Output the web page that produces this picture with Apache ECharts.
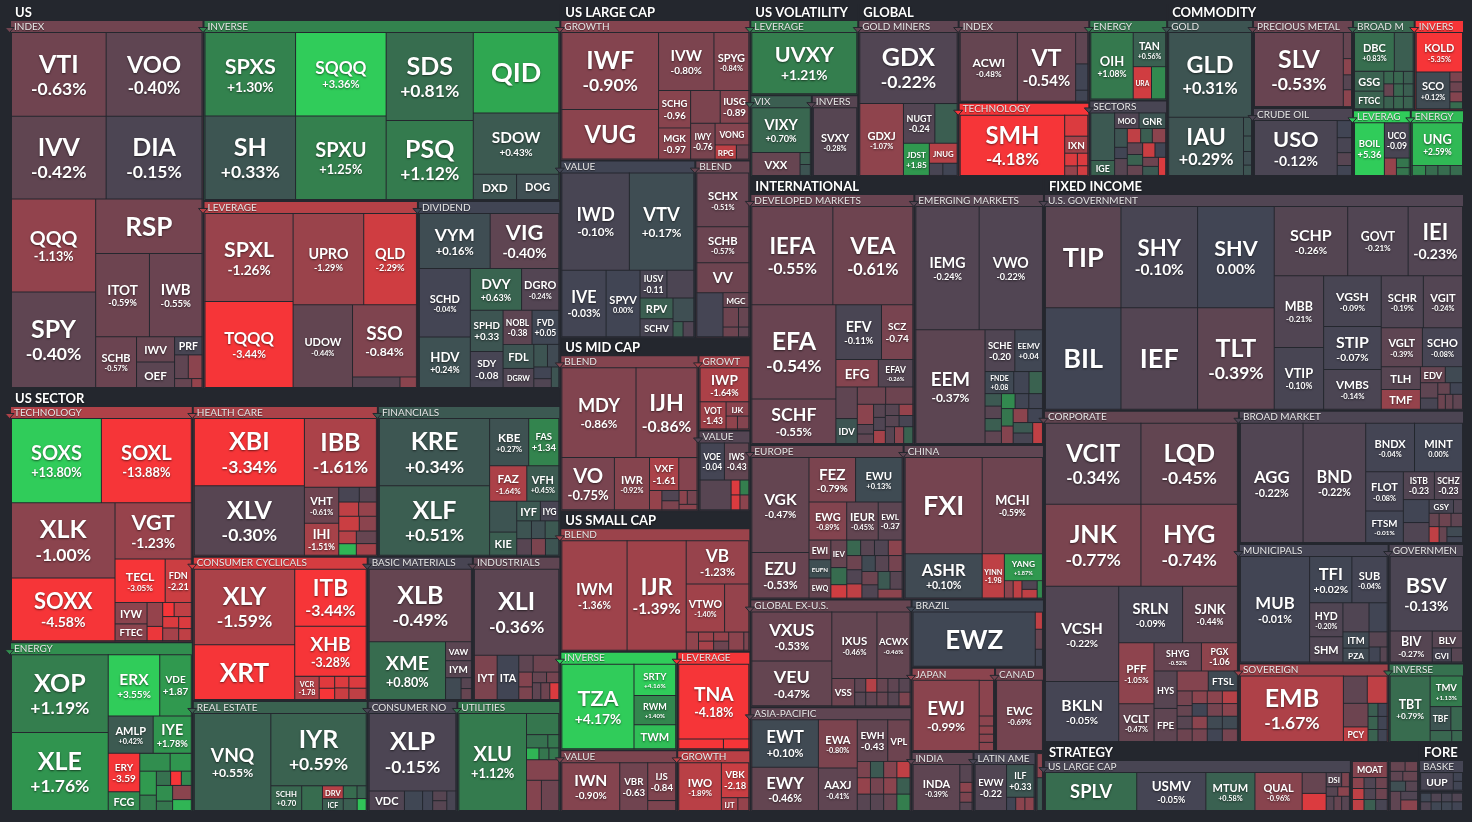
<!DOCTYPE html>
<html><head><meta charset="utf-8">
<script src="https://cdn.jsdelivr.net/npm/echarts@6/dist/echarts.min.js"></script>
<style>html,body{margin:0;padding:0;background:#24272e;}#c{width:1472px;height:822px;}</style>
</head><body><div id="c"></div>
<script>
// ---------- DATA: [ticker, relative size (px area), change %, label mode] ----------
// label mode: 1 = ticker + "x.xx%", 2 = ticker + "x.xx", 0 = ticker only (or unlabeled)
const US_INDEX = [['VTI',7800,-0.63,1],['VOO',7900,-0.40,1],['IVV',7700,-0.42,1],['DIA',7800,-0.15,1],['QQQ',7700,-1.13,1],['SPY',7900,-0.40,1],['RSP',5700,-0.70,0],['ITOT',4400,-0.59,1],['IWB',4300,-0.55,1],['SCHB',2040,-0.57,1],['IWV',950,-0.50,0],['OEF',950,-0.35,0],['PRF',490,-0.10,0],['',320,-0.40,0],['',320,-1.00,0],['',150,-0.50,0],['',90,-1.20,0]];
const US_INVERSE = [['SPXS',7470,1.30,1],['SH',7470,0.33,1],['SQQQ',7470,3.36,1],['SPXU',7470,1.25,1],['SDS',7570,0.81,1],['PSQ',6800,1.12,1],['QID',6800,2.20,0],['SDOW',5190,0.43,1],['DXD',1075,0.30,0],['DOG',1050,0.20,0]];
const US_LEVERAGE = [['SPXL',7570,-1.26,1],['TQQQ',7400,-3.44,1],['UPRO',6300,-1.29,1],['QLD',4700,-2.29,1],['UDOW',4800,-0.44,1],['SSO',4500,-0.84,1],['',490,-0.30,0],['',170,-1.00,0]];
const US_DIVIDEND = [['VYM',3780,0.16,1],['VIG',3670,-0.40,1],['SCHD',3400,-0.04,1],['HDV',2500,0.24,1],['DVY',2090,0.63,1],['DGRO',1520,-0.24,1],['SPHD',1310,0.33,2],['SDY',1150,-0.08,2],['NOBL',960,-0.38,2],['FVD',890,0.05,2],['FDL',720,0.30,0],['DGRW',570,-0.20,0],['',300,0.30,0],['',250,0.10,0],['',200,0.00,0],['',150,-0.20,0],['',150,0.30,0]];

const SEC_TECH = [['SOXS',7470,13.80,1],['SOXL',7470,-13.88,1],['XLK',7700,-1.00,1],['SOXX',6400,-4.58,1],['VGT',4240,-1.23,1],['TECL',2150,-3.05,1],['FDN',1120,-2.21,2],['IYW',680,-1.00,0],['FTEC',530,-1.00,0],['',370,-1.20,0],['',220,-2.80,0],['',160,-3.00,0],['',240,-2.00,0],['',180,-2.50,0],['',200,-1.50,0],['',150,-2.50,0],['',150,-2.00,0]];
const SEC_ENERGY = [['XOP',7400,1.19,1],['XLE',7400,1.76,1],['ERX',3100,3.55,1],['VDE',1900,1.87,2],['AMLP',1650,0.42,1],['IYE',1400,1.78,1],['ERY',1190,-3.59,2],['FCG',580,1.50,0],['',530,1.60,0],['',370,1.80,0],['',390,1.90,0],['',250,1.20,0],['',200,0.90,0],['',150,-3.00,0],['',140,1.50,0],['',250,1.60,0],['',150,1.00,0],['',260,-1.00,0],['',200,2.50,0]];
const SEC_HEALTH = [['XBI',7340,-3.34,1],['XLV',7560,-0.30,1],['IBB',4900,-1.61,1],['VHT',1220,-0.61,1],['IHI',1090,-1.51,1],['',300,-0.10,0],['',250,-0.30,0],['',280,-2.00,0],['',250,-1.20,0],['',300,-2.20,0],['',250,-1.00,0],['',220,-1.80,0],['',200,2.50,0],['',250,-0.50,0],['',230,-1.50,0]];
const SEC_FIN = [['KRE',7340,0.34,1],['XLF',7560,0.51,1],['KBE',1830,0.27,1],['FAS',1410,1.34,2],['FAZ',1300,-1.64,1],['VFH',1120,0.45,1],['',830,0.30,0],['KIE',620,0.50,0],['IYF',460,0.40,0],['IYG',360,-0.10,0],['',260,0.30,0],['',240,-0.30,0],['',240,0.20,0],['',240,0.40,0],['',230,-0.80,0],['',220,0.30,0]];
const SEC_CYCL = [['XLY',7400,-1.59,1],['XRT',5350,-3.20,0],['ITB',3980,-3.44,1],['XHB',3480,-3.28,1],['VCR',550,-1.78,2],['',180,-2.60,0],['',170,-3.00,0],['',160,-2.50,0],['',160,-2.20,0],['',200,-2.50,0],['',190,-2.00,0]];
const SEC_REAL = [['VNQ',7600,0.55,1],['IYR',7060,0.59,1],['SCHH',780,0.70,2],['',525,0.80,0],['DRV',273,-1.80,0],['ICF',252,0.50,0],['',180,0.80,0],['',120,0.60,0],['',170,0.50,0],['',110,2.80,0]];
const SEC_BASIC = [['XLB',7240,-0.49,1],['XME',4310,0.80,1],['VAW',480,-0.35,0],['IYM',430,-0.30,0],['',330,0.10,0],['',110,-0.30,0],['',110,-0.50,0]];
const SEC_IND = [['XLI',7220,-0.36,1],['IYT',1000,-0.80,0],['ITA',950,0.00,0],['',240,-0.40,0],['',430,-0.60,0],['',200,-0.90,0],['',170,-0.80,0],['',150,-0.50,0],['',130,-0.70,0],['',140,-0.40,0],['',150,-0.60,0],['',150,-2.50,0]];
const SEC_NONCYC = [['XLP',6800,-0.15,1],['VDC',700,-0.20,0],['',360,0.05,0],['',200,0.00,0],['',140,-0.30,0],['',140,-0.30,0],['',180,-0.10,0]];
const SEC_UTIL = [['XLU',6720,1.12,1],['',700,1.00,0],['',290,0.90,0],['',150,1.00,0],['',150,2.50,0],['',120,1.00,0],['',120,1.00,0],['',680,-0.90,0],['',460,-0.90,0],['',540,-0.60,0]];

const LC_GROWTH = [['IWF',7140,-0.90,1],['VUG',4600,-1.00,0],['IVW',3080,-0.80,1],['SPYG',1940,-0.84,1],['SCHG',1150,-0.96,2],['MGK',960,-0.97,2],['',930,-0.80,0],['IUSG',900,-0.89,2],['IWY',840,-0.76,2],['VONG',700,-0.90,0],['RPG',290,-2.00,0],['',170,-0.60,0]];
const LC_VALUE = [['IWD',6400,-0.10,1],['VTV',6110,0.17,1],['IVE',2880,-0.03,1],['SPYV',2210,0.00,1],['IUSV',730,-0.11,2],['',730,-0.15,0],['RPV',670,0.50,0],['SCHV',580,-0.10,0],['',480,0.20,0],['',150,0.50,0],['',160,-0.20,0]];
const LC_BLEND = [['SCHX',2750,-0.51,1],['SCHB',1840,-0.57,1],['VV',1530,-0.60,0],['',1140,-0.05,0],['MGC',375,-0.50,0],['',300,-0.60,0],['',200,-0.50,0],['',150,-0.60,0],['',100,-0.40,0]];
const MC_BLEND = [['MDY',6420,-0.86,1],['IJH',5280,-0.86,1],['VO',2650,-0.75,1],['IWR',1770,-0.92,1],['VXF',930,-1.61,2],['',580,-0.90,0],['',230,-1.20,0],['',170,-0.20,0],['',150,-0.80,0],['',110,-1.00,0],['',130,-0.70,0],['',95,-1.00,0]];
const MC_GROWTH = [['IWP',1580,-1.64,1],['VOT',675,-1.43,2],['IJK',310,-1.00,0],['',140,-1.10,0],['',140,-0.90,0]];
const MC_VALUE = [['VOE',890,-0.04,2],['IWS',890,-0.43,2],['',910,-0.30,0],['',130,-2.50,0],['',130,1.20,0],['',130,-2.50,0],['',130,-1.00,0]];
const SC_BLEND = [['IWM',7040,-1.36,1],['IJR',6380,-1.39,1],['VB',2670,-1.23,1],['VTWO',1820,-1.40,1],['',1150,-1.20,0],['',220,-1.10,0],['',135,-1.30,0],['',135,-1.50,0],['',135,-1.20,0],['',135,-0.60,0],['',270,-1.00,0],['',90,-0.80,0]];
const SC_INVERSE = [['TZA',5950,4.17,1],['SRTY',1270,4.16,1],['RWM',1190,1.40,1],['TWM',980,2.70,0]];
const SC_VALUE = [['IWN',2690,-0.90,1],['VBR',1300,-0.63,2],['IJS',1030,-0.84,2],['',270,-0.80,0]];
const SC_LEVERAGE = [['TNA',5180,-4.18,1],['',440,-3.50,0],['',250,-3.50,0]];
const SC_GROWTH = [['IWO',2020,-1.89,1],['VBK',950,-2.18,2],['IJT',210,-1.50,0],['',140,-1.20,0]];

const VOL_LEVERAGE = [['UVXY',6120,1.21,1]];
const VOL_VIX = [['VIXY',2570,0.70,1],['VXX',1080,-0.50,0],['',120,0.50,0],['',110,0.30,0]];
const VOL_INVERSE = [['SVXY',2860,-0.28,1]];

const GL_MINERS = [['GDX',6720,-0.22,1],['GDXJ',3050,-1.07,1],['NUGT',1210,-0.24,2],['',860,0.50,0],['JDST',810,1.85,2],['JNUG',540,-1.80,0],['',160,-0.10,0],['',170,0.00,0]];
const GL_INDEX = [['ACWI',3810,-0.48,1],['VT',3880,-0.54,1],['',370,-0.40,0],['',310,0.00,0],['',130,0.00,0]];
const GL_TECH = [['SMH',6240,-4.18,1],['',480,-2.50,0],['IXN',390,-1.50,0],['',160,-2.50,0],['',120,-1.20,0],['',130,-2.50,0],['',100,-2.30,0]];
const GL_ENERGY = [['OIH',2770,1.08,1],['TAN',1090,0.56,1],['URA',580,-2.30,0],['',450,1.50,0]];
const GL_SECTORS = [['',950,0.40,0],['IGE',300,0.60,0],['MOO',320,-0.20,0],['GNR',350,0.30,0],['',200,0.30,0],['',120,0.00,0],['',180,-0.30,0],['',160,-2.00,0],['',140,0.50,0],['',160,-1.00,0],['',150,-0.40,0],['',140,0.60,0],['',130,-0.50,0],['',150,-2.20,0],['',130,0.00,0],['',120,-0.60,0],['',120,0.40,0],['',110,-2.50,0]];

const CM_GOLD = [['GLD',6800,0.31,1],['IAU',4220,0.29,1],['',145,0.30,0],['',120,0.30,0],['',105,0.20,0],['',80,0.30,0]];
const CM_PRECIOUS = [['SLV',6440,-0.53,1],['',210,-0.50,0],['',130,-1.00,0],['',120,-0.30,0],['',135,-1.00,0]];
const CM_CRUDE = [['USO',4460,-0.12,1],['',240,0.00,0],['',210,-0.10,0],['',180,-0.30,0],['',140,0.00,0]];
const CM_BROAD = [['DBC',1520,0.83,1],['',720,0.50,0],['GSG',570,0.60,0],['FTGC',510,0.60,0],['',120,0.70,0],['',120,0.70,0],['',120,0.50,0],['',120,-0.50,0],['',120,0.60,0],['',120,0.70,0],['',120,0.50,0],['',120,0.70,0],['',120,0.60,0]];
const CM_INVERSE = [['KOLD',1750,-5.35,1],['SCO',1190,0.12,1],['',120,-0.80,0],['',120,-0.60,0],['',120,-0.90,0],['',85,0.80,0]];
const CM_LEVERAGE = [['BOIL',1650,5.36,2],['UCO',920,-0.09,2],['',220,-1.20,0],['',130,1.00,0],['',105,1.00,0]];
const CM_ENERGY = [['UNG',2070,2.59,1],['',130,1.50,0],['',120,0.80,0],['',120,0.80,0],['',120,0.80,0]];

const IN_DEVELOPED = [['IEFA',7760,-0.55,1],['VEA',7660,-0.61,1],['EFA',7700,-0.54,1],['SCHF',3650,-0.55,1],['EFV',2430,-0.11,1],['SCZ',1670,-0.74,2],['EFG',1130,-0.90,0],['EFAV',920,-0.26,1],['',660,-0.40,0],['IDV',520,0.30,0],['',480,-0.60,0],['',460,-0.60,0],['',320,-1.00,0],['',150,-0.30,0],['',150,-0.40,0],['',150,-0.30,0],['',150,-0.20,0],['',150,-1.50,0],['',150,-0.30,0],['',150,-1.20,0],['',150,-0.30,0],['',150,-0.10,0],['',150,-0.30,0],['',150,-1.00,0],['',150,0.60,0]];
const IN_EMERGING = [['IEMG',7630,-0.24,1],['VWO',7630,-0.22,1],['EEM',7700,-0.37,1],['SCHE',1220,-0.20,2],['EEMV',1130,0.04,2],['FNDE',620,0.08,2],['',330,0.00,0],['',290,0.60,0],['',200,0.40,0],['',200,-0.30,0],['',200,0.50,0],['',200,-0.40,0],['',200,1.50,0],['',200,0.00,0],['',200,0.00,0],['',200,1.00,0],['',200,-0.90,0],['',200,-1.00,0],['',200,0.00,0],['',200,0.40,0],['',200,-0.10,0],['',200,-2.00,0]];
const IN_EUROPE = [['VGK',5080,-0.47,1],['EZU',2430,-0.53,1],['FEZ',1940,-0.79,1],['EWU',1940,0.13,1],['EWG',1340,-0.89,1],['IEUR',1120,-0.45,1],['EWL',850,-0.37,2],['EWI',400,-0.60,0],['EUFN',375,0.20,0],['EWQ',410,-0.50,0],['IEV',410,-0.50,0],['',255,0.80,0],['',200,-2.30,0],['',200,0.70,0],['',200,-0.30,0],['',200,-0.20,0],['',200,-1.00,0],['',200,-0.60,0],['',200,-0.20,0],['',200,-2.00,0],['',200,0.10,0],['',200,-0.30,0],['',200,-0.70,0],['',200,-0.60,0],['',200,-0.20,0],['',200,0.40,0],['',200,-0.30,0],['',200,-1.00,0]];
const IN_CHINA = [['FXI',7250,-0.70,0],['MCHI',5670,-0.59,1],['ASHR',3340,0.10,1],['YINN',960,-1.98,2],['YANG',1000,1.87,1],['',150,-1.00,0],['',150,-2.00,0],['',130,-0.20,0],['',130,-2.00,0],['',90,1.50,0]];
const IN_GLOBALEX = [['VXUS',3870,-0.53,1],['VEU',3560,-0.47,1],['IXUS',2970,-0.46,1],['ACWX',2180,-0.46,1],['VSS',620,-0.60,0],['',150,-0.40,0],['',150,-0.30,0],['',150,-1.80,0],['',150,-0.40,0],['',150,-0.50,0],['',150,-0.50,0],['',150,-0.40,0],['',150,-0.30,0],['',150,-0.30,0],['',150,-0.80,0]];
const IN_ASIA = [['EWT',3060,0.10,1],['EWY',2800,-0.46,1],['EWA',1820,-0.80,1],['AAXJ',1600,-0.41,1],['EWH',1230,-0.43,2],['VPL',900,-0.60,0],['',210,-0.80,0],['',210,-1.20,0],['',210,-0.30,0],['',210,0.40,0],['',210,-0.90,0],['',210,-2.00,0],['',210,-0.70,0],['',210,-0.30,0],['',210,-1.00,0],['',210,0.50,0],['',210,-0.50,0],['',210,1.20,0]];
const IN_BRAZIL = [['EWZ',6480,0.05,0],['',120,-2.00,0],['',140,-0.50,0],['',120,0.00,0]];
const IN_JAPAN = [['EWJ',4540,-0.99,1],['',500,-1.00,0],['',140,-1.00,0],['',115,-1.10,0],['',115,-1.00,0],['',115,-1.00,0]];
const IN_CANADA = [['EWC',3200,-0.69,1]];
const IN_INDIA = [['INDA',2120,-0.39,1],['',215,-0.30,0],['',120,-1.00,0],['',120,-0.80,0],['',100,-0.30,0]];
const IN_LATAM = [['EWW',1430,-0.22,2],['ILF',890,0.33,2],['',120,0.00,0],['',120,-1.00,0],['',120,-1.00,0]];
const IN_OTHER = [['',140,-1.00,0],['',190,0.40,0]];

const FI_USGOV = [['TIP',7470,-0.35,0],['BIL',7470,0.00,0],['SHY',7580,-0.10,1],['IEF',7580,-0.25,0],['SHV',7580,0.00,1],['TLT',7580,-0.39,1],['SCHP',4960,-0.26,1],['GOVT',4080,-0.21,1],['IEI',3670,-0.23,1],['MBB',3460,-0.21,1],['VTIP',2980,-0.10,1],['VGSH',2860,-0.09,1],['STIP',2410,-0.07,1],['VMBS',2240,-0.14,1],['SCHR',2140,-0.19,1],['VGIT',1990,-0.24,1],['VGLT',1560,-0.39,1],['SCHO',1520,-0.08,1],['TLH',870,-0.30,0],['TMF',760,-1.20,0],['EDV',390,-0.50,0],['',270,0.10,0],['',260,-0.40,0],['',190,-0.10,0],['',140,-0.50,0],['',140,0.00,0],['',110,-0.60,0],['',110,-0.50,0],['',140,-0.40,0]];
const FI_CORP = [['VCIT',7700,-0.34,1],['LQD',7780,-0.45,1],['JNK',7790,-0.77,1],['HYG',7870,-0.74,1],['VCSH',6940,-0.22,1],['BKLN',4380,-0.05,1],['SRLN',3590,-0.09,1],['SJNK',3080,-0.44,1],['PFF',2140,-1.05,1],['VCLT',1330,-0.47,1],['SHYG',1330,-0.52,1],['PGX',1010,-1.06,2],['HYS',860,-0.30,0],['FPE',760,-0.40,0],['',620,-0.90,0],['FTSL',580,0.10,0],['',220,-0.70,0],['',160,-0.50,0],['',190,-0.30,0],['',190,-0.60,0],['',190,-1.00,0],['',190,-1.00,0],['',190,-1.80,0],['',190,0.00,0],['',190,-1.00,0],['',190,-0.70,0],['',190,-0.70,0],['',190,-1.00,0],['',190,0.10,0],['',190,0.00,0],['',190,0.10,0],['',190,-0.70,0]];
const FI_BROAD = [['AGG',7260,-0.22,1],['BND',7260,-0.22,1],['BNDX',2300,-0.04,1],['MINT',2260,0.00,1],['FLOT',1440,-0.08,1],['FTSM',1150,-0.01,1],['ISTB',840,-0.23,2],['SCHZ',760,-0.23,2],['',575,0.00,0],['',500,-0.20,0],['GSY',325,-0.10,0],['',120,-0.20,0],['',130,-0.50,0],['',155,-2.00,0],['',155,-0.60,0],['',150,-0.40,0],['',120,-0.50,0],['',150,0.10,0],['',90,0.00,0]];
const FI_MUNI = [['MUB',7210,-0.01,1],['TFI',1930,0.02,1],['SUB',1610,-0.04,1],['HYD',1120,-0.20,1],['SHM',830,-0.20,0],['',750,-0.20,0],['',520,0.00,0],['ITM',420,0.10,0],['PZA',360,0.10,0],['',270,-0.30,0],['',165,0.00,0],['',105,-0.30,0]];
const FI_SOVEREIGN = [['EMB',6730,-1.67,1],['',650,-0.40,0],['',540,-2.00,0],['',580,-0.60,0],['PCY',360,-2.00,0],['',130,0.50,0],['',120,0.00,0],['',130,0.60,0],['',120,0.00,0],['',120,0.60,0],['',110,0.00,0]];
const FI_GOVT = [['BSV',5400,-0.13,1],['BIV',1300,-0.27,1],['BLV',510,-0.30,0],['GVI',270,-0.10,0],['',155,-0.30,0]];
const FI_INVERSE = [['TBT',2540,0.79,1],['TMV',960,1.13,1],['TBF',480,0.30,0],['',270,0.70,0],['',230,0.70,0],['',115,0.70,0]];

const ST_LARGE = [['SPLV',3460,0.80,0],['USMV',2620,-0.05,1],['MTUM',1860,0.58,1],['QUAL',1790,-0.96,1],['',500,-0.50,0],['',410,-2.50,0],['DSI',220,-0.30,0],['',110,-0.80,0],['',110,-0.30,0],['',110,-1.00,0],['',110,-0.30,0],['',110,-0.50,0],['',110,-0.30,0]];
const ST_MOAT = [['MOAT',480,-0.90,0],['',110,-1.00,0],['',110,-2.00,0],['',110,-2.00,0],['',110,-0.20,0],['',110,-0.60,0],['',110,-0.20,0],['',110,0.50,0],['',110,-0.60,0],['',110,-0.10,0]];
const ST_OTHER = [['',130,-0.50,0],['',110,-0.60,0],['',110,-0.40,0],['',130,-0.50,0],['',140,0.20,0],['',110,-0.30,0],['',180,-0.40,0],['',130,-0.20,0],['',160,-1.00,0]];
const FX_BASKET = [['UUP',510,-0.10,0],['',72,0.00,0],['',72,0.00,0]];
const FX_OTHER = [['',80,0.05,0],['',80,-0.20,0],['',80,-0.20,0],['',80,0.05,0],['',80,-0.10,0],['',80,0.05,0],['',80,-0.20,0],['',80,0.00,0]];

// groups: [name, size, [subgroup name, size, header change, leaves]]
const GROUPS = [
  ['US', 212.7, [['INDEX',71.2,-0.65,US_INDEX],['INVERSE',64.4,1.3,US_INVERSE],['LEVERAGE',40.2,-1.8,US_LEVERAGE],['DIVIDEND',26.7,0.0,US_DIVIDEND]]],
  ['US SECTOR', 233.1, [['TECHNOLOGY',43.8,-1.7,SEC_TECH],['ENERGY',31.5,1.6,SEC_ENERGY],['HEALTH CARE',28.3,-1.6,SEC_HEALTH],['FINANCIALS',27.9,0.4,SEC_FIN],['CONSUMER CYCLICALS',25.6,-2.4,SEC_CYCL],['REAL ESTATE',19.7,0.6,SEC_REAL],['BASIC MATERIALS',15.4,-0.1,SEC_BASIC],['INDUSTRIALS',12.8,-0.4,SEC_IND],['CONSUMER NON-CYCLICALS',10.1,-0.1,SEC_NONCYC],['UTILITIES',11.6,1.0,SEC_UTIL]]],
  ['US LARGE CAP', 63.8, [['GROWTH',26.5,-0.9,LC_GROWTH],['VALUE',23.8,0.0,LC_VALUE],['BLEND',9.7,-0.5,LC_BLEND]]],
  ['US MID CAP', 32.9, [['BLEND',21.6,-0.9,MC_BLEND],['GROWTH',3.9,-1.5,MC_GROWTH],['VALUE',4.2,-0.25,MC_VALUE]]],
  ['US SMALL CAP', 57.2, [['BLEND',23.4,-1.3,SC_BLEND],['INVERSE',11.5,3.5,SC_INVERSE],['VALUE',7.2,-0.8,SC_VALUE],['LEVERAGE',7.2,-4.0,SC_LEVERAGE],['GROWTH',4.5,-1.9,SC_GROWTH]]],
  ['US VOLATILITY', 18.8, [['LEVERAGE',7.9,1.2,VOL_LEVERAGE],['VIX',4.9,0.5,VOL_VIX],['INVERSE',3.7,-0.3,VOL_INVERSE]]],
  ['GLOBAL', 53.8, [['GOLD MINERS',15.6,-0.4,GL_MINERS],['INDEX',10.7,-0.5,GL_INDEX],['TECHNOLOGY',9.6,-4.0,GL_TECH],['ENERGY',6.2,1.0,GL_ENERGY],['SECTORS',5.9,-0.1,GL_SECTORS]]],
  ['COMMODITY', 51.7, [['GOLD',13.3,0.3,CM_GOLD],['PRECIOUS METAL',8.7,-0.55,CM_PRECIOUS],['CRUDE OIL',6.8,-0.15,CM_CRUDE],['BROAD MARKET',5.5,0.7,CM_BROAD],['INVERSE',4.4,-4.0,CM_INVERSE],['LEVERAGE',3.8,3.6,CM_LEVERAGE],['ENERGY',3.5,2.6,CM_ENERGY]]],
  ['INTERNATIONAL', 186.7, [['DEVELOPED MARKETS',41.0,-0.55,IN_DEVELOPED],['EMERGING MARKETS',32.4,-0.3,IN_EMERGING],['EUROPE',23.6,-0.5,IN_EUROPE],['CHINA',21.6,-0.4,IN_CHINA],['GLOBAL EX-U.S.',17.3,-0.5,IN_GLOBALEX],['ASIA-PACIFIC',16.8,-0.4,IN_ASIA],['BRAZIL',9.0,0.05,IN_BRAZIL],['JAPAN',7.0,-1.0,IN_JAPAN],['CANADA',4.1,-0.7,IN_CANADA],['INDIA',3.7,-0.4,IN_INDIA],['LATIN AMERICA',3.7,-0.1,IN_LATAM],['',0.5,-0.3,IN_OTHER]]],
  ['FIXED INCOME', 238.1, [['U.S. GOVERNMENT',91.1,-0.22,FI_USGOV],['CORPORATE',64.8,-0.45,FI_CORP],['BROAD MARKET',30.0,-0.15,FI_BROAD],['MUNICIPALS',17.9,-0.05,FI_MUNI],['SOVEREIGN',11.9,-1.4,FI_SOVEREIGN],['GOVERNMENT',9.0,-0.15,FI_GOVT],['INVERSE',6.0,0.9,FI_INVERSE]]],
  ['STRATEGY', 25.9, [['US LARGE CAP',16.2,-0.1,ST_LARGE],['',2.0,-0.6,ST_MOAT],['',1.6,-0.4,ST_OTHER]]],
  ['FOREX', 3.1, [['BASKET',1.4,-0.05,FX_BASKET],['',0.9,0.0,FX_OTHER]]]
];

// ---------- colour scale (change % -> colour) ----------
const STOPS = [[-3,[246,53,56]],[-2,[191,64,69]],[-1,[139,68,78]],[0,[65,69,84]],[1,[53,118,78]],[2,[47,158,79]],[3,[48,204,90]]];
function chgColor(c){
  if (c <= -3) return 'rgb(246,53,56)';
  if (c >= 3) return 'rgb(48,204,90)';
  for (let i = 0; i < STOPS.length - 1; i++) {
    const a = STOPS[i], b = STOPS[i+1];
    if (c >= a[0] && c <= b[0]) {
      const t = (c - a[0]) / (b[0] - a[0]);
      return 'rgb(' + [0,1,2].map(k => Math.round(a[1][k] + (b[1][k] - a[1][k]) * t)).join(',') + ')';
    }
  }
  return 'rgb(65,69,84)';
}
function pctText(c, mode){
  const s = (c > 0 ? '+' : '') + c.toFixed(2);
  return mode === 1 ? s + '%' : s;
}

const BG = '#24272e';
const meta = {};
const subMeta = {};
function build(labels){
  let uid = 0, sid = 0;
  return GROUPS.map(([gname, gsize, subs]) => {
    const subSum = subs.reduce((s, g) => s + g[1], 0);
    return {
      name: gname,
      children: subs.map(([sname, ssize, schg, leaves]) => {
        const leafSum = leaves.reduce((s, l) => s + l[1], 0);
        const col = chgColor(schg);
        const sKey = 's' + (sid++);
        subMeta[sKey] = { name: sname, color: col };
        const node = {
          name: sname, uid: sKey,
          itemStyle: { borderColor: col, color: col },
          children: leaves.map(([lname, area, chg, mode]) => {
            const id = 'u' + (uid++);
            meta[id] = { name: lname, chg, mode };
            return {
              name: lname, uid: id,
              value: area / leafSum * ssize / subSum * gsize,
              itemStyle: { color: chgColor(chg) },
              label: (labels && labels[id]) ? labels[id] : { show: false }
            };
          })
        };
        if (!sname) node.upperLabel = { show: false };
        return node;
      })
    };
  });
}

function makeOption(data){
  return {
    backgroundColor: BG,
    animation: false,
    textStyle: { fontFamily: 'Lato, sans-serif' },
    series: [{
      type: 'treemap',
      left: 11, top: 4, right: 9, bottom: 11,
      roam: false, nodeClick: false,
      breadcrumb: { show: false },
      sort: false, squareRatio: 1, visibleMin: 0,
      label: { show: false },
      upperLabel: { show: false },
      itemStyle: { borderColor: BG, borderWidth: 0, gapWidth: 0 },
      emphasis: { disabled: true },
      levels: [
        { itemStyle: { borderColor: BG, color: BG, borderWidth: 0, gapWidth: 2 } },
        { itemStyle: { borderColor: BG, color: BG, borderWidth: 0, gapWidth: 2 },
          upperLabel: { show: true, height: 17, color: '#ffffff', fontSize: 13, fontWeight: 'bold',
            fontFamily: 'Lato', position: 'insideLeft', distance: 4, padding: [0, 2, 0, 0], ellipsis: '',
            textShadowColor: 'rgba(0,0,0,0.6)', textShadowBlur: 2, textShadowOffsetY: 1 } },
        { itemStyle: { borderWidth: 0, gapWidth: -1 },
          upperLabel: { show: true, height: 11, color: '#e6e6e6', fontSize: 10,
            fontFamily: 'Lato', position: 'insideLeft', distance: 3, padding: [0, 7, 0, 0], ellipsis: '',
            textShadowColor: 'rgba(0,0,0,0.5)', textShadowBlur: 1, textShadowOffsetY: 1 } },
        { itemStyle: { borderWidth: 1, borderColor: BG, gapWidth: 0 } }
      ],
      data: data
    }]
  };
}

const chart = echarts.init(document.getElementById('c'), null, { renderer: 'canvas' });
chart.setOption(makeOption(build(null)));

// ---------- second pass: size labels to the rectangles computed by the treemap ----------
const mctx = document.createElement('canvas').getContext('2d');
function em(text){ mctx.font = 'bold 100px Lato'; return mctx.measureText(text).width / 100; }
function fit(m, w, h){
  if (!m.name) return null;
  const eT = em(m.name);
  const shadow = { textShadowColor: 'rgba(0,0,0,0.55)', textShadowBlur: 2, textShadowOffsetY: 1 };
  let ft, fp = 0, pct = '';
  if (m.mode === 0) {
    ft = Math.min(27, 0.47 * h, 0.58 * w / eT);
    if (ft < 11) ft = Math.min(11, 0.55 * h, 0.72 * w / eT);
  } else if (m.mode === 2) {
    pct = pctText(m.chg, 2);
    const eP = em(pct);
    ft = Math.min(10, 0.3 * h, 0.78 * w / eT, 0.78 * w / eP);
    fp = ft;
  } else {
    pct = pctText(m.chg, 1);
    const eP = em(pct);
    ft = Math.min(25, 0.39 * h, 0.56 * w / eT);
    if (ft < 11) ft = Math.min(11, 0.3 * h, 0.85 * w / eT);
    const ratio = ft >= 22 ? 0.7 : (ft >= 14 ? 0.64 : 0.66);
    fp = Math.min(ft * ratio, 0.8 * w / eP);
    if (fp < ft * ratio && ft >= 14) ft = Math.min(ft, fp / ratio + 2);
    if (fp < 5) { pct = ''; }
    const block = ft * 1.1 + (pct ? fp * 1.25 : 0);
    if (block > 0.92 * h) { const k = 0.92 * h / block; ft *= k; fp *= k; }
  }
  if (ft < 6) return null;
  const lhT = ft * 1.1, lhP = fp * 1.25;
  const blockH = lhT + (pct ? lhP : 0);
  const padTop = Math.max(0, (h - blockH) / 2);
  const rich = {
    t: Object.assign({ fontSize: ft, lineHeight: lhT, fontWeight: 'bold', fontFamily: 'Lato', color: '#ffffff' }, shadow)
  };
  let fmt = '{t|' + m.name + '}';
  if (pct) {
    rich.p = Object.assign({ fontSize: fp, lineHeight: lhP, fontWeight: 'bold', fontFamily: 'Lato', color: '#ffffff' }, shadow);
    fmt += '\n{p|' + pct + '}';
  }
  return { show: true, position: 'inside', align: 'center', verticalAlign: 'middle',
    padding: [padTop, 0, 0, 0], overflow: 'none', formatter: fmt, rich: rich };
}

try {
  const sm = chart.getModel().getSeriesByIndex(0);
  const sdata = sm.getData();
  const labels = {};
  const notches = [];
  const root = sdata.tree.root;
  const rl = root.getLayout();
  sdata.tree.root.eachNode(function(node){
    const id = node.getModel().get('uid');
    const lay = node.getLayout();
    if (!id || !lay) return;
    if (node.children && node.children.length) {
      // subgroup header notch (small down-pointing marker under the header bar)
      const sm2 = subMeta[id];
      if (sm2 && sm2.name && node.parentNode) {
        const pl = node.parentNode.getLayout();
        const ax = rl.x + pl.x + lay.x, ay = rl.y + pl.y + lay.y + 11;
        if (lay.width > 24 && lay.height > 30) {
          notches.push({ type: 'polygon', z: 100, silent: true,
            shape: { points: [[ax + 5, ay - 0.5], [ax + 14, ay - 0.5], [ax + 9.5, ay + 4.5]] },
            style: { fill: sm2.color, stroke: BG, lineWidth: 1 } });
        }
      }
      return;
    }
    if (!meta[id]) return;
    const lab = fit(meta[id], lay.width, lay.height);
    if (lab) labels[id] = lab;
  });
  chart.setOption({ series: [{ data: build(labels) }], graphic: notches });
} catch (e) { console.error(e); }
</script></body></html>
